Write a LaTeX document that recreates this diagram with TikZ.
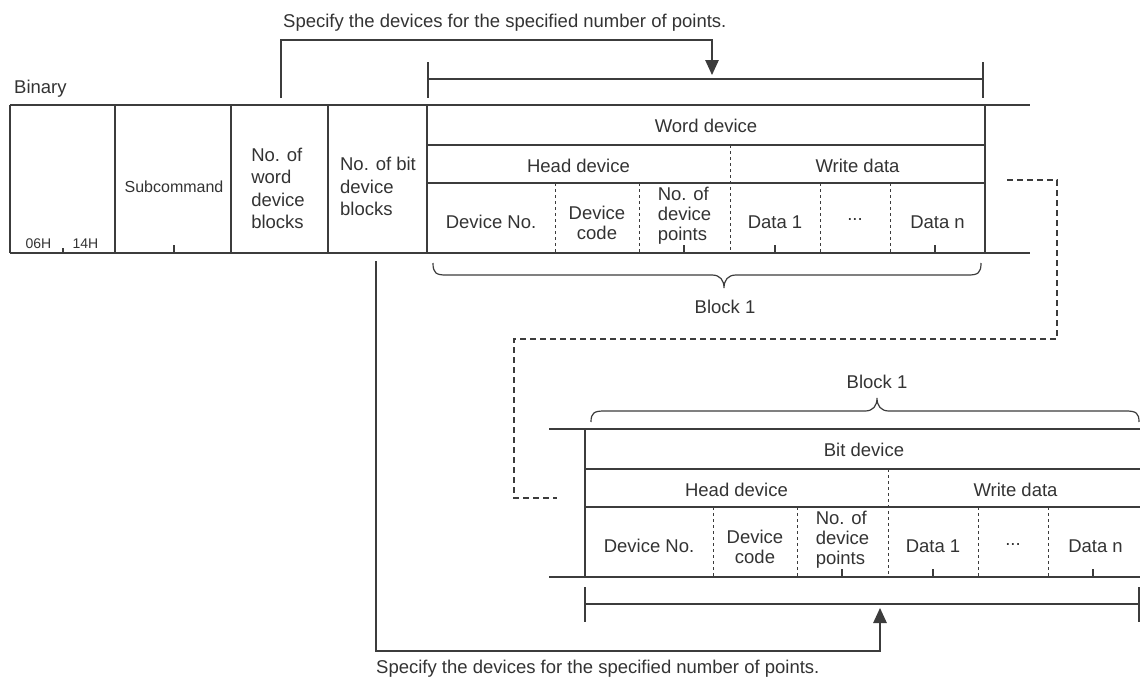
\documentclass[tikz,border=0pt]{standalone}
\usepackage{fontspec}
\setmainfont{Liberation Sans}
\usetikzlibrary{arrows.meta}
\definecolor{ink}{HTML}{333333}
\definecolor{rule}{HTML}{3C3C3C}

% one device block: #1 name prefix, #2 title
\newcommand{\devtable}[2]{%
  \draw[grid] (427,105) -- (427,253) (985,105) -- (985,253)
    (427,145) -- (985,145) (427,183) -- (985,183);
  \draw[divider] (730,145) -- (730,253);
  \foreach \x in {555,639,820,890} \draw[divider] (\x,183) -- (\x,253);
  \foreach \x in {684,775,935} \draw[grid] (\x,245) -- (\x,253);
  \node[txt] (#1-title) at (706,126) {#2};
  \node[txt] (#1-head) at (578.5,166) {Head device};
  \node[txt] (#1-write) at (857.5,166) {Write data};
  \node[txt] (#1-no) at (491,222) {Device No.};
  \node[txt] (#1-code) at (597,223) {Device\\code};
  \node[txt, align=left] (#1-pts) at (684.5,216) {No. of\\device\\points};
  \node[txt] (#1-d1) at (775,222) {Data 1};
  \node[txt] (#1-dots) at (855,220) {...};
  \node[txt] (#1-dn) at (937.5,222) {Data n};
}

\begin{document}
\begin{tikzpicture}[x=1pt, y=-1pt,
    every node/.style={text=ink, inner sep=0pt},
    txt/.style={font=\fontsize{18.5}{20}\selectfont, align=center},
    big/.style={font=\fontsize{18.5}{22.5}\selectfont, align=left},
    small/.style={font=\fontsize{16}{18}\selectfont},
    tiny/.style={font=\fontsize{14}{16}\selectfont},
    grid/.style={draw=rule, line width=1.2pt},
    divider/.style={draw=rule, line width=1pt, dash pattern=on 3pt off 3pt},
    link/.style={draw=rule, line width=1.2pt},
    hint/.style={draw=rule, line width=1.1pt, dash pattern=on 6pt off 4pt},
    >={Triangle[length=15pt, width=13.5pt]}]
  \useasboundingbox (0,0) rectangle (1140,681);
  \clip (0,0) rectangle (1140,681);

  % header part
  \node[txt, anchor=base west] (bin) at (14,93) {Binary};
  \draw[grid] (10,105) -- (1030,105) (10,253) -- (1030,253);
  \foreach \x in {10,115,231,328} \draw[grid] (\x,105) -- (\x,253);
  \draw[grid] (63,248) -- (63,253) (174,245) -- (174,253);
  \node[tiny] (cmd1) at (38.5,244) {06H};
  \node[tiny] (cmd2) at (85.5,244) {14H};
  \node[small] (sub) at (174,187) {Subcommand};
  \node[big] (nword) at (278,188.5) {No. of\\word\\device\\blocks};
  \node[big] (nbit) at (378,186.5) {No. of bit\\device\\blocks};

  % word device block
  \devtable{w}{Word device}

  % bit device block
  \draw[grid] (549,429) -- (1140,429) (549,577) -- (1140,577);
  \begin{scope}[shift={(158,324)}]
    \devtable{b}{Bit device}
  \end{scope}

  % braces
  \draw[grid] (433,263) .. controls (433,273) and (436,275) .. (446,275) -- (712,275)
    .. controls (720,275) and (724,280) .. (724,288)
    .. controls (724,280) and (728,275) .. (736,275) -- (968,275)
    .. controls (978,275) and (981,273) .. (981,263);
  \node[txt] (blk1) at (725,307) {Block 1};
  \draw[grid] (591,422) .. controls (591,413) and (594,411) .. (604,411) -- (865,411)
    .. controls (873,411) and (877,406) .. (877,398)
    .. controls (877,406) and (881,411) .. (889,411) -- (1126,411)
    .. controls (1136,411) and (1139,413) .. (1139,422);
  \node[txt] (blk2) at (877,382) {Block 1};

  % point ranges
  \draw[grid] (428,62) -- (428,98) (983,62) -- (983,98) (428,79) -- (983,79);
  \draw[grid] (585,587) -- (585,622) (1139,587) -- (1139,622) (585,604) -- (1139,604);

  % notes and links
  \node[txt, anchor=base west] (note1) at (283,27) {Specify the devices for the specified number of points.};
  \node[txt, anchor=base west] (note2) at (376,673) {Specify the devices for the specified number of points.};
  \coordinate (wsrc) at (281,98);
  \coordinate (wtop) at (712,40);
  \coordinate (wdst) at (712,75);
  \draw[link, ->] (wsrc) |- (wtop) -- (wdst);
  \coordinate (bsrc) at (376,261);
  \coordinate (bbot) at (880,651);
  \coordinate (bdst) at (880,608);
  \draw[link, ->] (bsrc) |- (bbot) -- (bdst);
  \coordinate (dA) at (1007,180);
  \coordinate (dB) at (1057,339);
  \coordinate (dC) at (514,498);
  \coordinate (dD) at (557,498);
  \draw[hint] (dA) -| (dB) -| (dC) -- (dD);
\end{tikzpicture}
\end{document}
